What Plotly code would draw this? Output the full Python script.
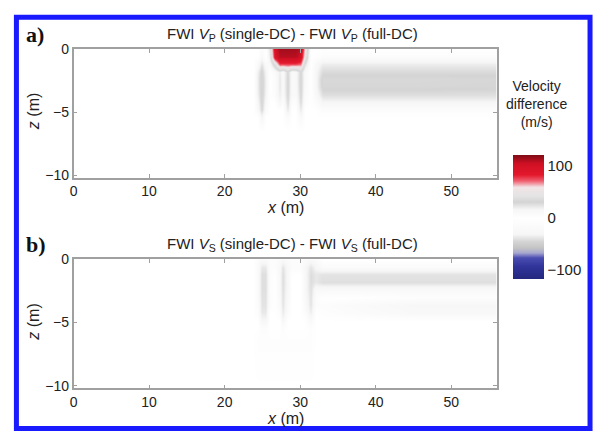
import plotly.graph_objects as go

# ---- data ----
x_nodes = [0, 23.8, 24.4, 24.9, 25.4, 26.0, 26.6, 27.2, 27.7, 28.3, 28.9, 29.4, 30.0, 30.6, 31.3, 32.0, 33.0, 36, 45, 56]
z_nodes = [0, -0.6, -1.2, -1.8, -2.4, -3.0, -3.6, -4.2, -4.8, -5.4, -6.5, -10.2]

# velocity difference (m/s), panel a: Vp
dvp = [
    # 0   23.8 24.4 24.9 25.4 26.0 26.6 27.2 27.7 28.3 28.9 29.4 30.0 30.6 31.3 32.0 33.0 36  45  56
    [0,   0,   0,   5,   0,   25,  100, 114, 114, 114, 114, 114, 108, 60,  0,   0,   0,   0,  0,  0],
    [0,   0,   0,   10,  0,   20,  92,  110, 110, 110, 110, 110, 102, 50,  0,   0,   5,   5,  5,  5],
    [0,   0,   8,   24,  8,   10,  40,  78,  78,  78,  78,  78,  72,  28,  0,   10,  20,  20, 20, 20],
    [0,   0,   18,  33,  16,  0,   8,   20,  10,  30,  10,  12,  31,  10,  0,   14,  28,  28, 28, 28],
    [0,   0,   20,  35,  18,  0,   5,   22,  10,  32,  10,  12,  33,  10,  0,   14,  34,  34, 34, 33],
    [0,   0,   20,  35,  18,  0,   5,   22,  10,  32,  10,  12,  32,  10,  0,   14,  33,  33, 33, 32],
    [0,   0,   18,  34,  16,  0,   5,   20,  10,  30,  10,  10,  30,  8,   0,   10,  26,  26, 26, 26],
    [0,   0,   14,  33,  12,  0,   0,   14,  5,   28,  5,   5,   28,  5,   0,   5,   16,  16, 16, 16],
    [0,   0,   10,  29,  8,   0,   0,   0,   0,   22,  0,   0,   22,  0,   0,   0,   5,   5,  5,  5],
    [0,   0,   0,   16,  0,   0,   0,   0,   0,   8,   0,   0,   10,  0,   0,   0,   0,   0,  0,  0],
    [0,   0,   0,   0,   0,   0,   0,   0,   0,   0,   0,   0,   0,   0,   0,   0,   0,   0,  0,  0],
    [0,   0,   0,   0,   0,   0,   0,   0,   0,   0,   0,   0,   0,   0,   0,   0,   0,   0,  0,  0],
]

# velocity difference (m/s), panel b: Vs
dvs = [
    # 0   23.8 24.4 24.9 25.4 26.0 26.6 27.2 27.7 28.3 28.9 29.4 30.0 30.6 31.3 32.0 33.0 36  45  56
    [0,   0,   5,   10,  10,  5,   5,   8,   12,  8,   5,   5,   5,   8,   12,  8,   0,   0,  0,  0],
    [0,   0,   8,   22,  22,  5,   5,   12,  24,  12,  5,   5,   5,   12,  24,  15,  8,   8,  8,  8],
    [0,   0,   8,   26,  26,  5,   0,   12,  27,  12,  0,   0,   0,   12,  27,  22,  24,  24, 24, 24],
    [0,   0,   8,   26,  26,  5,   0,   12,  27,  12,  0,   0,   0,   12,  27,  22,  26,  26, 26, 26],
    [0,   0,   8,   26,  26,  5,   0,   12,  26,  12,  0,   0,   0,   12,  26,  10,  10,  10, 10, 10],
    [0,   0,   8,   25,  25,  5,   0,   10,  25,  10,  0,   0,   0,   10,  25,  5,   0,   0,  3,  3],
    [0,   0,   5,   24,  24,  5,   0,   8,   24,  8,   0,   0,   0,   8,   24,  5,   5,   8,  14, 14],
    [0,   0,   5,   22,  22,  0,   0,   5,   22,  5,   0,   0,   0,   5,   20,  0,   3,   6,  12, 12],
    [0,   0,   0,   15,  15,  0,   0,   0,   14,  0,   0,   0,   0,   0,   10,  0,   0,   0,  0,  0],
    [0,   0,   0,   5,   5,   0,   0,   0,   5,   0,   0,   0,   0,   0,   3,   0,   0,   0,  0,  0],
    [0,   0,   3,   3,   3,   3,   3,   3,   3,   3,   3,   3,   3,   3,   3,   0,   0,   0,  0,  0],
    [0,   0,   0,   0,   0,   0,   0,   0,   0,   0,   0,   0,   0,   0,   0,   0,   0,   0,  0,  0],
]

x_ticks = [0, 10, 20, 30, 40, 50]
z_ticks = [0, -5, -10]
cbar_ticks = [100, 0, -100]

W, H = 595, 437
def px(x):
    return x / W
def py(y):
    return 1 - y / H

colorscale = [
    [0.00, '#24287e'], [0.10, '#30349a'], [0.17, '#4a4cb0'], [0.21, '#a8a8d0'],
    [0.25, '#c4c4c4'], [0.30, '#d4d4d4'], [0.36, '#f6f6f6'], [0.49, '#ffffff'],
    [0.56, '#f6f6f6'], [0.62, '#d4d4d4'], [0.67, '#e4e4e4'], [0.74, '#f2e4e6'],
    [0.79, '#f06070'], [0.84, '#e4182c'], [0.93, '#d01024'], [1.00, '#7e0c16'],
]

fig = go.Figure()
fig.add_trace(go.Heatmap(x=x_nodes, y=z_nodes, z=dvp, coloraxis='coloraxis',
                         zsmooth='best', xaxis='x', yaxis='y', hoverinfo='skip'))
fig.add_trace(go.Heatmap(x=x_nodes, y=z_nodes, z=dvs, coloraxis='coloraxis',
                         zsmooth='best', xaxis='x2', yaxis='y2', hoverinfo='skip'))

axcol = '#a0a0a0'
tickfont = dict(family='Liberation Sans, Arial', size=14, color='#222')
common = dict(showgrid=False, zeroline=False, showline=True, linecolor=axcol, linewidth=1.5,
              mirror='ticks', ticks='inside', ticklen=4, tickcolor=axcol, tickwidth=1,
              tickfont=tickfont)

pa_top, pa_bot = 42, 175
pb_top, pb_bot = 259, 392
xl, xr = 70, 496

fig.update_layout(
    width=W, height=H, margin=dict(l=0, r=0, t=0, b=0),
    paper_bgcolor='white', plot_bgcolor='white', showlegend=False,
    xaxis=dict(domain=[px(xl), px(xr)], range=[0, 56], tickvals=x_ticks, anchor='y', **common),
    yaxis=dict(domain=[py(pa_bot), py(pa_top)], range=[-10.2, 0], tickvals=z_ticks, anchor='x', **common),
    xaxis2=dict(domain=[px(xl), px(xr)], range=[0, 56], tickvals=x_ticks, anchor='y2', **common),
    yaxis2=dict(domain=[py(pb_bot), py(pb_top)], range=[-10.2, 0], tickvals=z_ticks, anchor='x2', **common),
    coloraxis=dict(colorscale=colorscale, cmin=-118, cmax=122,
                   colorbar=dict(x=px(512), xanchor='left', xpad=0, ypad=0,
                                 thickness=31, thicknessmode='pixels',
                                 len=124, lenmode='pixels', y=py(215), yanchor='middle',
                                 outlinewidth=0, ticks='', tickvals=cbar_ticks,
                                 tickfont=dict(family='Liberation Sans, Arial', size=15, color='#222'))),
)

ann_font = dict(family='Liberation Sans, Arial', size=15, color='#222')
anns = []
for (top, bot, lab, sub) in [(pa_top, pa_bot, 'a)', 'P'), (pb_top, pb_bot, 'b)', 'S')]:
    ty = top - 15
    anns.append(dict(text=f'<b>{lab}</b>', x=px(20), y=py(ty), xanchor='left', yanchor='middle',
                     font=dict(family='Liberation Serif, Times New Roman', size=22, color='#111')))
    anns.append(dict(text=f'FWI <i>V</i><sub>{sub}</sub> (single-DC) - FWI <i>V</i><sub>{sub}</sub> (full-DC)',
                     x=px(290), y=py(ty), xanchor='center', yanchor='middle', font=ann_font))
    anns.append(dict(text='<i>x</i> (m)', x=px((xl + xr) / 2), y=py(bot + 31), xanchor='center',
                     yanchor='middle', font=dict(family='Liberation Sans, Arial', size=16, color='#222')))
    anns.append(dict(text='<i>z</i> (m)', x=px(30), y=py((top + bot) / 2 - 2), xanchor='center',
                     yanchor='middle', textangle=-90,
                     font=dict(family='Liberation Sans, Arial', size=16, color='#222')))
anns.append(dict(text='Velocity<br>difference<br>(m/s)', x=px(536), y=py(99), xanchor='center',
                 yanchor='middle', font=dict(family='Liberation Sans, Arial', size=14, color='#222')))
for a in anns:
    a.update(xref='paper', yref='paper', showarrow=False)
fig.update_layout(annotations=anns)

fig.add_shape(type='rect', xref='paper', yref='paper', x0=px(12.5), x1=px(590), y0=py(433.5), y1=py(9.5),
              line=dict(color='#1a1aff', width=5), layer='above')

fig.write_html('out.html')
